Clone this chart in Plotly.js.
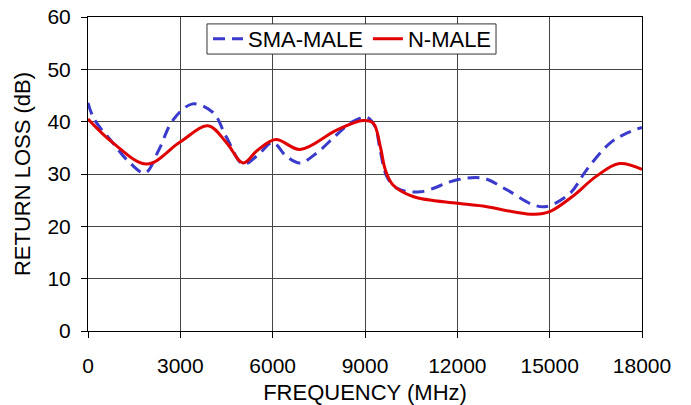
<!DOCTYPE html>
<html><head><meta charset="utf-8">
<script src="https://cdn.plot.ly/plotly-3.0.1.min.js"></script>
<style>html,body{margin:0;padding:0;background:#fff}#c{width:691px;height:405px}</style>
</head><body><div id="c"></div>
<script>
const smaFreq = [0, 200, 800, 1300, 1850, 2300, 2760, 3400, 4070, 4500, 5040, 5500, 6000, 6460, 6890, 7430, 8080, 8600, 9060, 9330, 9490, 9710, 10030, 10790, 12000, 12840, 13600, 14470, 14900, 15660, 16200, 16960, 17500, 18000];
const smaRL   = [43.6, 40.5, 36, 32.5, 30.2, 34.6, 40.3, 43.4, 41.7, 37, 31.9, 33.5, 36, 33.3, 32.1, 34, 37.5, 40, 40.8, 39, 34.6, 29.5, 27.3, 26.6, 28.9, 29.2, 27, 24.1, 23.8, 26.3, 30.8, 35.9, 37.8, 38.9];
const nFreq = [0, 800, 1910, 2990, 3900, 4500, 5040, 5500, 6100, 6890, 8080, 8940, 9270, 9500, 9660, 9910, 10560, 12000, 12920, 13800, 14510, 15000, 15740, 16500, 17260, 18000];
const nRL   = [40.5, 36, 31.9, 36.1, 39.2, 36, 32.1, 34.5, 36.6, 34.7, 38.4, 40.2, 39.7, 35.2, 30.8, 27.9, 25.7, 24.4, 23.8, 22.8, 22.3, 22.8, 25.7, 29.5, 32, 30.9];
const xTicks = [0, 3000, 6000, 9000, 12000, 15000, 18000];
const yTicks = [0, 10, 20, 30, 40, 50, 60];

const FAM = 'Liberation Sans, Arial, sans-serif';
const f = s => ({family: FAM, size: s, color: '#000'});
const traces = [
  {x: smaFreq, y: smaRL, name: 'SMA-MALE', mode: 'lines',
   line: {color: '#3a3acc', width: 3, dash: '12px,7px', shape: 'spline', smoothing: 1}},
  {x: nFreq, y: nRL, name: 'N-MALE', mode: 'lines',
   line: {color: '#e00000', width: 3, shape: 'spline', smoothing: 1}}
];
const layout = {
  width: 691, height: 405,
  margin: {l: 88, r: 49, t: 17, b: 74},
  paper_bgcolor: '#fff', plot_bgcolor: '#fff',
  font: f(21),
  showlegend: true,
  legend: {orientation: 'h', x: 0.2166, y: 0.997, xanchor: 'left', yanchor: 'top',
    bgcolor: 'rgba(0,0,0,0)', borderwidth: 0,
    font: f(22), itemwidth: 30, tracegroupgap: 0},
  shapes: [{type: 'rect', xref: 'paper', yref: 'paper', layer: 'above',
    x0: 0.2148, x1: 0.7365, y0: 0.882, y1: 0.978,
    fillcolor: '#fff', line: {color: '#333', width: 1}}],
  xaxis: {range: [0, 18000], tickvals: xTicks, ticktext: xTicks.map(String),
    showgrid: true, gridcolor: '#444', gridwidth: 1, zeroline: false,
    showline: true, linecolor: '#000', linewidth: 1, mirror: true,
    ticks: 'outside', ticklen: 6, tickcolor: '#000', ticklabelstandoff: 10,
    tickfont: f(21),
    title: {text: 'FREQUENCY (MHz)', font: f(22), standoff: 8}},
  yaxis: {range: [0, 60], tickvals: yTicks, ticktext: yTicks.map(String),
    showgrid: true, gridcolor: '#444', gridwidth: 1, zeroline: false,
    showline: true, linecolor: '#000', linewidth: 1, mirror: true,
    ticks: 'outside', ticklen: 6, tickcolor: '#000', ticklabelstandoff: 6,
    tickfont: f(21),
    title: {text: 'RETURN LOSS (dB)', font: f(22), standoff: 10}}
};
Plotly.newPlot('c', traces, layout, {displayModeBar: false, staticPlot: true});
</script></body></html>
